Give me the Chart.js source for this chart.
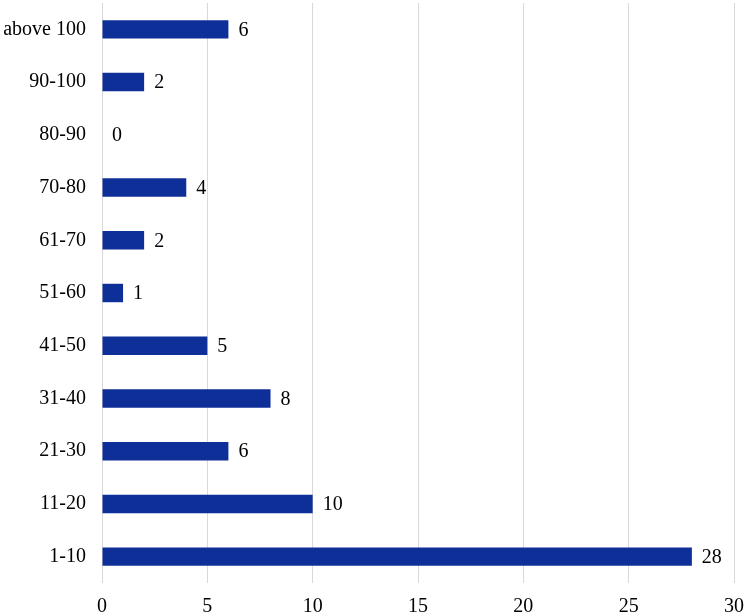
<!DOCTYPE html>
<html>
<head>
<meta charset="utf-8">
<script src="https://cdn.jsdelivr.net/npm/chart.js@4/dist/chart.umd.min.js"></script>
<style>
  html, body { margin: 0; padding: 0; background: #fff; }
  #wrap { width: 747px; height: 614px; }
</style>
</head>
<body>
<div id="wrap"><canvas id="BarChart"></canvas></div>
<script>
// categories top to bottom, as shown
var categories = ['above 100', '90-100', '80-90', '70-80', '61-70', '51-60', '41-50', '31-40', '21-30', '11-20', '1-10'];
var counts = [6, 2, 0, 4, 2, 1, 5, 8, 6, 10, 28];
var xTicks = [0, 5, 10, 15, 20, 25, 30];

var fontFamily = '"Liberation Serif", "Times New Roman", serif';

// draws the value next to each bar end
var valueLabels = {
	id: 'valueLabels',
	afterDatasetsDraw: function(chart) {
		var ctx = chart.ctx;
		var meta = chart.getDatasetMeta(0);
		ctx.save();
		ctx.font = '20px ' + fontFamily;
		ctx.fillStyle = '#000';
		ctx.textAlign = 'left';
		ctx.textBaseline = 'middle';
		meta.data.forEach(function(bar, i) {
			ctx.fillText(String(counts[i]), bar.x + 10, bar.y + 1);
		});
		ctx.restore();
	}
};

new Chart(document.getElementById('BarChart'), {
	type: 'bar',
	data: {
		labels: categories,
		datasets: [
			{
				data: counts,
				backgroundColor: '#0f2f98',
				borderWidth: 0,
				categoryPercentage: 1,
				barPercentage: 0.35
			}
		]
	},
	options: {
		indexAxis: 'y',
		responsive: true,
		maintainAspectRatio: false,
		animation: false,
		layout: { padding: { top: 3, right: 13, left: 0, bottom: 0 } },
		plugins: {
			legend: { display: false },
			tooltip: { enabled: false }
		},
		scales: {
			x: {
				min: 0,
				max: 30,
				afterBuildTicks: function(axis) {
					axis.ticks = xTicks.map(function(v) { return { value: v }; });
				},
				afterFit: function(axis) {
					axis.height = 31;
					axis.paddingLeft = 0;
					axis.paddingRight = 0;
				},
				grid: { color: '#d9d9d9', lineWidth: 1, drawTicks: false },
				border: { display: false },
				ticks: {
					padding: 12,
					color: '#000',
					font: { family: fontFamily, size: 20 }
				}
			},
			y: {
				afterFit: function(axis) {
					axis.width = 102;
					axis.paddingTop = 0;
					axis.paddingBottom = 0;
				},
				grid: { display: false, drawTicks: false },
				border: { display: false },
				ticks: {
					padding: 16,
					color: '#000',
					font: { family: fontFamily, size: 20 }
				}
			}
		}
	},
	plugins: [valueLabels]
});
</script>
</body>
</html>
